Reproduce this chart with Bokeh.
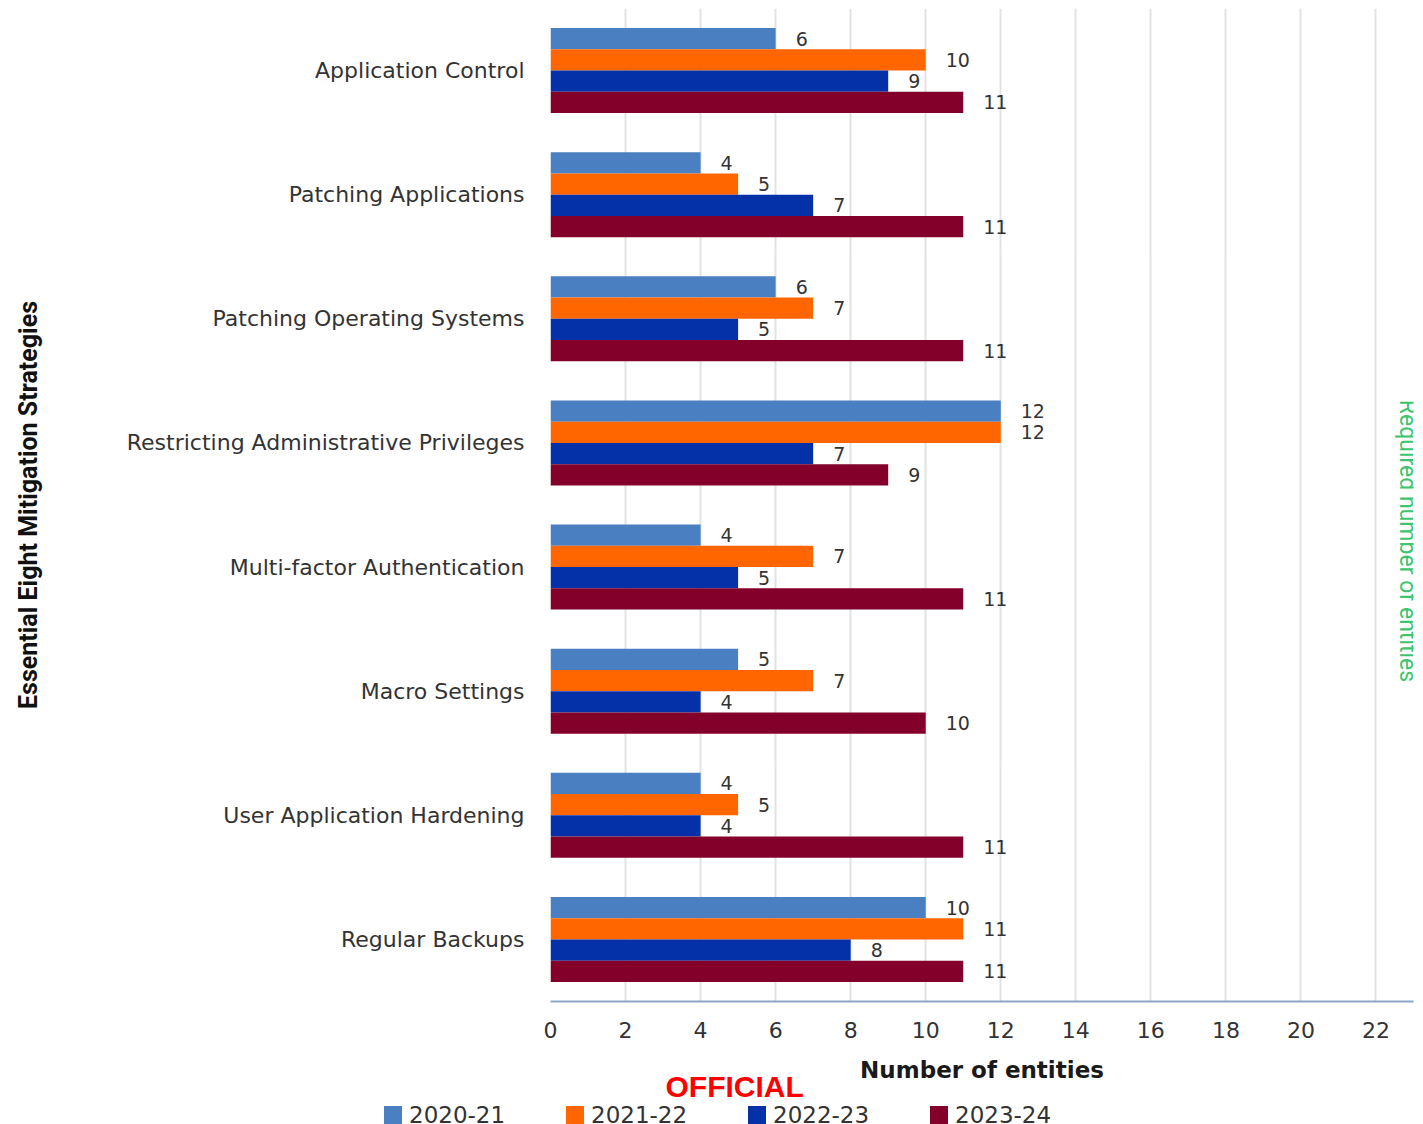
import math

from bokeh.core.properties import value
from bokeh.embed import file_html
from bokeh.layouts import column
from bokeh.models import (ColumnDataSource, Div, FactorRange, Label, LabelSet,
                          Range1d, SingleIntervalTicker, Title)
from bokeh.plotting import figure
from bokeh.resources import INLINE
from bokeh.transform import dodge

# Essential Eight mitigation strategies, listed top to bottom
strategies = [
    "Application Control",
    "Patching Applications",
    "Patching Operating Systems",
    "Restricting Administrative Privileges",
    "Multi-factor Authentication",
    "Macro Settings",
    "User Application Hardening",
    "Regular Backups",
]
years = ["2020-21", "2021-22", "2022-23", "2023-24"]

# Number of entities per strategy, by reporting year
entities_2020_21 = [6, 4, 6, 12, 4, 5, 4, 10]
entities_2021_22 = [10, 5, 7, 12, 7, 7, 5, 11]
entities_2022_23 = [9, 7, 5, 7, 5, 4, 4, 8]
entities_2023_24 = [11, 11, 11, 9, 11, 10, 11, 11]
series = [entities_2020_21, entities_2021_22, entities_2022_23, entities_2023_24]

x_ticks_step = 2
x_max = 23

colors = ["#4a7fc1", "#ff6600", "#0531a8", "#83002a"]
bar_h = 0.171
offsets = [1.5 * bar_h, 0.5 * bar_h, -0.5 * bar_h, -1.5 * bar_h]

FONT = "DejaVu Sans"
TXT = "#333333"

sources = [
    ColumnDataSource(dict(strategy=strategies, value=vals,
                          label=[str(v) for v in vals]))
    for vals in series
]

# ---- main chart -------------------------------------------------------
fig = figure(
    width=1423, height=1102,
    y_range=FactorRange(factors=strategies[::-1]),
    x_range=Range1d(0, x_max),
    output_backend="svg", toolbar_location=None,
    min_border_left=550, min_border_right=10,
    min_border_top=8, min_border_bottom=101,
)
fig.outline_line_color = None

for src, col, off in zip(sources, colors, offsets):
    ypos = dodge("strategy", off, range=fig.y_range)
    fig.hbar(y=ypos, left=0, right="value", height=bar_h, source=src,
             fill_color=col, line_color=None)
    fig.add_layout(LabelSet(
        x="value", y=ypos, text="label", source=src,
        x_offset=20, text_align="left", text_baseline="middle",
        text_font=value(FONT), text_font_size="19px", text_color=TXT,
    ))

ticker = SingleIntervalTicker(interval=x_ticks_step)
fig.xaxis.ticker = ticker
fig.xgrid.ticker = ticker
fig.xaxis.major_tick_line_color = None
fig.xaxis.minor_tick_line_color = None
fig.xaxis.axis_line_color = "#8ea6c9"
fig.xaxis.axis_line_width = 2
fig.xaxis.major_label_text_font = FONT
fig.xaxis.major_label_text_font_size = "22px"
fig.xaxis.major_label_text_color = TXT
fig.xaxis.major_label_standoff = 14
fig.xaxis.axis_label = "Number of entities"
fig.xaxis.axis_label_text_font = FONT
fig.xaxis.axis_label_text_font_size = "23px"
fig.xaxis.axis_label_text_font_style = "bold"
fig.xaxis.axis_label_text_color = "#1a1a1a"
fig.xaxis.axis_label_standoff = 16

fig.xgrid.grid_line_color = "#e2e2e2"
fig.xgrid.grid_line_width = 2
fig.ygrid.grid_line_color = None

fig.yaxis.axis_line_color = None
fig.yaxis.major_tick_line_color = None
fig.yaxis.minor_tick_line_color = None
fig.yaxis.major_label_text_font = FONT
fig.yaxis.major_label_text_font_size = "22px"
fig.yaxis.major_label_text_color = TXT
fig.yaxis.major_label_standoff = 20
fig.yaxis.axis_label = "Essential Eight Mitigation Strategies"
fig.yaxis.axis_label_text_font = "Roboto"
fig.yaxis.axis_label_text_font_size = "25px"
fig.yaxis.axis_label_text_font_style = "bold"
fig.yaxis.axis_label_text_color = "#111111"
fig.yaxis.axis_label_standoff = 81

# side note on the right edge of the plot
fig.add_layout(Label(
    x=22.85, y=3.71, text="Required number of entities", angle=-math.pi / 2,
    text_align="center", text_baseline="middle",
    text_font="Roboto", text_font_size="23px",
    text_color="#3cc46e",
))

# classification marking under the axis title
fig.add_layout(Title(
    text="OFFICIAL", align="left", offset=115, standoff=-35,
    text_font="Liberation Sans", text_font_size="30px",
    text_font_style="bold", text_color="#ff0000",
), "below")

# ---- series key under the chart --------------------------------------------
swatch = ("display:inline-block;width:18px;height:18px;margin-right:7px;"
          "vertical-align:middle;background:{c}")
entries = "".join(
    f'<span style="display:inline-block;width:182px;white-space:nowrap">'
    f'<span style="{swatch.format(c=c)}"></span>'
    f'<span style="vertical-align:middle">{yr}</span></span>'
    for yr, c in zip(years, colors)
)
key = Div(
    text=(f'<div style="font-family:\'{FONT}\';font-size:23px;color:{TXT};'
          f'line-height:22px;height:22px;padding-left:384px;white-space:nowrap">'
          f'{entries}</div>'),
    width=1423, height=22, margin=0,
)

p = column(fig, key, spacing=0)

open("out.html", "w").write(file_html(p, INLINE))
